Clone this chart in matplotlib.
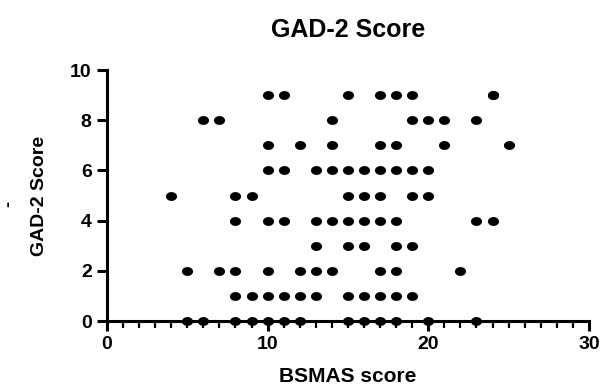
import numpy as np
import matplotlib.pyplot as plt
from matplotlib.path import Path

plt.rcParams['font.family'] = ['Liberation Sans', 'DejaVu Sans']
plt.rcParams['font.weight'] = 'bold'

# BSMAS score per GAD-2 level
gad_levels = [0, 1, 2, 3, 4, 5, 6, 7, 8, 9]
bsmas_by_gad = [
    [5, 6, 8, 9, 10, 11, 12, 15, 16, 17, 18, 20, 23],
    [8, 9, 10, 11, 12, 13, 15, 16, 17, 18, 19],
    [5, 7, 8, 10, 12, 13, 14, 17, 18, 22],
    [13, 15, 16, 18, 19],
    [8, 10, 11, 13, 14, 15, 16, 17, 18, 23, 24],
    [4, 8, 9, 15, 16, 17, 19, 20],
    [10, 11, 13, 14, 15, 16, 17, 18, 19, 20],
    [10, 12, 14, 17, 18, 21, 25],
    [6, 7, 14, 19, 20, 21, 23],
    [10, 11, 15, 17, 18, 19, 24, 24],
]

bsmas = []
gad = []
for level, xs in zip(gad_levels, bsmas_by_gad):
    bsmas += xs
    gad += [level] * len(xs)

# slightly wide dot, like the exported prism graph
t = np.linspace(0, 2 * np.pi, 40)
dot = Path(np.column_stack([np.cos(t) * 1.25, np.sin(t)]))

fig = plt.figure(figsize=(6.04, 3.85), dpi=100)
ax = fig.add_axes([0.177, 0.166, 0.798, 0.652])
ax.scatter(bsmas, gad, marker=dot, s=64, color='black', linewidths=0,
           clip_on=False, zorder=3)

ax.set_xlim(0, 30)
ax.set_ylim(0, 10)
ax.set_xticks([0, 10, 20, 30])
ax.set_xticks(np.arange(0, 31, 1), minor=True)
ax.set_yticks([0, 2, 4, 6, 8, 10])

for side in ['top', 'right']:
    ax.spines[side].set_visible(False)
for side in ['left', 'bottom']:
    ax.spines[side].set_linewidth(2.2)

ax.tick_params(axis='both', which='major', length=7, width=2.2, labelsize=14, pad=4)
ax.tick_params(axis='x', which='minor', length=5, width=1.6)

ax.set_title('GAD-2 Score', fontsize=18, fontweight='bold', pad=24)
ax.set_xlabel('BSMAS score', fontsize=15, fontweight='bold', labelpad=10)
ax.set_ylabel('GAD-2 Score', fontsize=14, fontweight='bold', labelpad=16)

# stray mark left of the y label
fig.text(0.014, 0.47, '-', rotation=90, fontsize=13, ha='center', va='center')

fig.savefig('out.png', dpi=100)
